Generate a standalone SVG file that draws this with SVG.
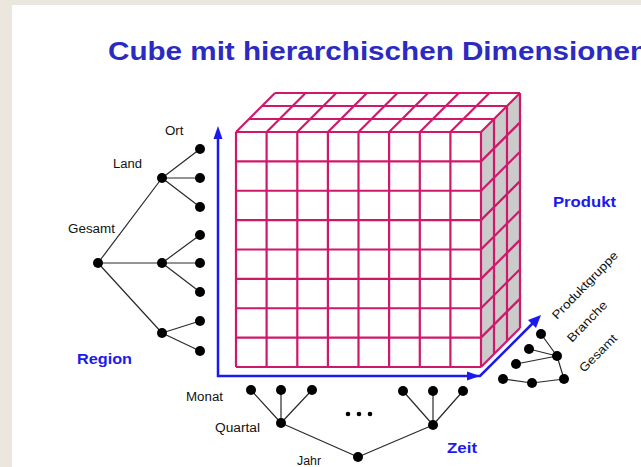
<svg xmlns="http://www.w3.org/2000/svg" width="641" height="467" viewBox="0 0 641 467">
<style>
.grid{fill:none;stroke:#d0186a;stroke-width:2.2;stroke-linejoin:round}
.edge{fill:none;stroke:#2a2a2a;stroke-width:1.2}
.axis{fill:none;stroke:#1a1aee;stroke-width:2.5}
.head{fill:#1a1aee}
.nd{fill:#000}
.lbl{font-family:"Liberation Sans",Arial,sans-serif;font-size:12px;fill:#111}
.dim{font-family:"Liberation Sans",Arial,sans-serif;font-size:15px;font-weight:bold;fill:#1a1aee}
.title{font-family:"Liberation Sans",Arial,sans-serif;font-size:25.5px;font-weight:bold;fill:#2b2bc2}
</style>
<rect x="0" y="0" width="641" height="467" fill="#ebe6de"/>
<rect x="12" y="5" width="629" height="462" fill="#ffffff"/>
<text class="title" x="108" y="60" textLength="540" lengthAdjust="spacingAndGlyphs">Cube mit hierarchischen Dimensionen</text>

<g id="cube">
<polygon points="481,132 520,93 520,328 481,367" fill="#cbcbcb"/>
<polygon points="236,132 275,93 520,93 481,132" fill="#ffffff"/>
<rect x="236" y="132" width="245" height="235" fill="#ffffff"/>
<path class="grid" d="M236,132L275,93 M266.6,132L305.6,93 M297.3,132L336.3,93 M327.9,132L366.9,93 M358.5,132L397.5,93 M389.1,132L428.1,93 M419.8,132L458.8,93 M450.4,132L489.4,93 M481,132L520,93 M249,119H494 M262,106H507 M275,93H520"/>
<path class="grid" d="M494,119V354 M507,106V341 M520,93V328 M481,161.4L520,122.4 M481,190.75L520,151.75 M481,220.1L520,181.1 M481,249.5L520,210.5 M481,278.9L520,239.9 M481,308.25L520,269.25 M481,337.6L520,298.6 M481,367L520,328"/>
<path class="grid" d="M236,132V367 M266.6,132V367 M297.3,132V367 M327.9,132V367 M358.5,132V367 M389.1,132V367 M419.8,132V367 M450.4,132V367 M481,132V367 M236,132H481 M236,161.4H481 M236,190.75H481 M236,220.1H481 M236,249.5H481 M236,278.9H481 M236,308.25H481 M236,337.6H481 M236,367H481"/>
</g>

<g id="axes">
<polyline class="axis" points="218,137 218,376 476,376"/>
<polyline class="axis" points="476,376 480,376 535,321"/>
<polygon class="head" points="218,126 213.5,139 222.5,139"/>
<polygon class="head" points="480,376 467,371.5 467,380.5"/>
<polygon class="head" points="541,315 536,328 528,320"/>
</g>

<g id="connectors">
<path class="edge" d="M98,263L162,178 M98,263L162,263 M98,263L162,333 M162,178L200,149 M162,178L200,178 M162,178L200,207 M162,263L200,235 M162,263L200,263 M162,263L200,292 M162,333L200,321 M162,333L200,351"/>
<path class="edge" d="M358,457L281,423 M358,457L433,425 M281,423L251,390 M281,423L281,390 M281,423L312,390 M433,425L403,391 M433,425L433,391 M433,425L463,391"/>
<path class="edge" d="M541,334L557,356 M529,349L557,356 M516,364L557,356 M557,356L564,379 M503,379L532,383 M532,383L564,379"/>
</g>

<g id="region-tree">
<circle id="r-gesamt" class="nd" cx="98" cy="263" r="5"/>
<circle id="r-land1" class="nd" cx="162" cy="178" r="5"/>
<circle id="r-land2" class="nd" cx="162" cy="263" r="5"/>
<circle id="r-land3" class="nd" cx="162" cy="333" r="5"/>
<circle id="r-ort1" class="nd" cx="200" cy="149" r="5"/>
<circle id="r-ort2" class="nd" cx="200" cy="178" r="5"/>
<circle id="r-ort3" class="nd" cx="200" cy="207" r="5"/>
<circle id="r-ort4" class="nd" cx="200" cy="235" r="5"/>
<circle id="r-ort5" class="nd" cx="200" cy="263" r="5"/>
<circle id="r-ort6" class="nd" cx="200" cy="292" r="5"/>
<circle id="r-ort7" class="nd" cx="200" cy="321" r="5"/>
<circle id="r-ort8" class="nd" cx="200" cy="351" r="5"/>
</g>

<g id="zeit-tree">
<circle id="z-jahr" class="nd" cx="358" cy="457" r="5"/>
<circle id="z-q1" class="nd" cx="281" cy="423" r="5"/>
<circle id="z-q2" class="nd" cx="433" cy="425" r="5"/>
<circle id="z-m1" class="nd" cx="251" cy="390" r="5"/>
<circle id="z-m2" class="nd" cx="281" cy="390" r="5"/>
<circle id="z-m3" class="nd" cx="312" cy="390" r="5"/>
<circle id="z-m4" class="nd" cx="403" cy="391" r="5"/>
<circle id="z-m5" class="nd" cx="433" cy="391" r="5"/>
<circle id="z-m6" class="nd" cx="463" cy="391" r="5"/>
<circle class="nd" cx="348" cy="414" r="2.3"/>
<circle class="nd" cx="359" cy="414" r="2.3"/>
<circle class="nd" cx="370" cy="414" r="2.3"/>
</g>

<g id="produkt-tree">
<circle id="p-gesamt" class="nd" cx="564" cy="379" r="5"/>
<circle id="p-branche1" class="nd" cx="557" cy="356" r="5"/>
<circle id="p-branche2" class="nd" cx="532" cy="383" r="5"/>
<circle id="p-gruppe1" class="nd" cx="541" cy="334" r="5"/>
<circle id="p-gruppe2" class="nd" cx="529" cy="349" r="5"/>
<circle id="p-gruppe3" class="nd" cx="516" cy="364" r="5"/>
<circle id="p-gruppe4" class="nd" cx="503" cy="379" r="5"/>
</g>

<g id="labels">
<text class="lbl" x="165" y="135" textLength="18.5" lengthAdjust="spacingAndGlyphs">Ort</text>
<text class="lbl" x="113" y="168" textLength="29" lengthAdjust="spacingAndGlyphs">Land</text>
<text class="lbl" x="68" y="233" textLength="47" lengthAdjust="spacingAndGlyphs">Gesamt</text>
<text class="dim" x="77" y="364" textLength="55" lengthAdjust="spacingAndGlyphs">Region</text>
<text class="lbl" x="186" y="401" textLength="37" lengthAdjust="spacingAndGlyphs">Monat</text>
<text class="lbl" x="215" y="432" textLength="45" lengthAdjust="spacingAndGlyphs">Quartal</text>
<text class="lbl" x="297" y="465" textLength="24" lengthAdjust="spacingAndGlyphs">Jahr</text>
<text class="dim" x="447" y="453" textLength="30" lengthAdjust="spacingAndGlyphs">Zeit</text>
<text class="dim" x="553" y="207" textLength="63" lengthAdjust="spacingAndGlyphs">Produkt</text>
<text class="lbl" transform="translate(557,320) rotate(-46)" font-size="13.5" textLength="89" lengthAdjust="spacingAndGlyphs">Produktgruppe</text>
<text class="lbl" transform="translate(572,343) rotate(-46)" font-size="13.5" textLength="52" lengthAdjust="spacingAndGlyphs">Branche</text>
<text class="lbl" transform="translate(584,373) rotate(-45)" font-size="13.5" textLength="48" lengthAdjust="spacingAndGlyphs">Gesamt</text>
</g>
</svg>
